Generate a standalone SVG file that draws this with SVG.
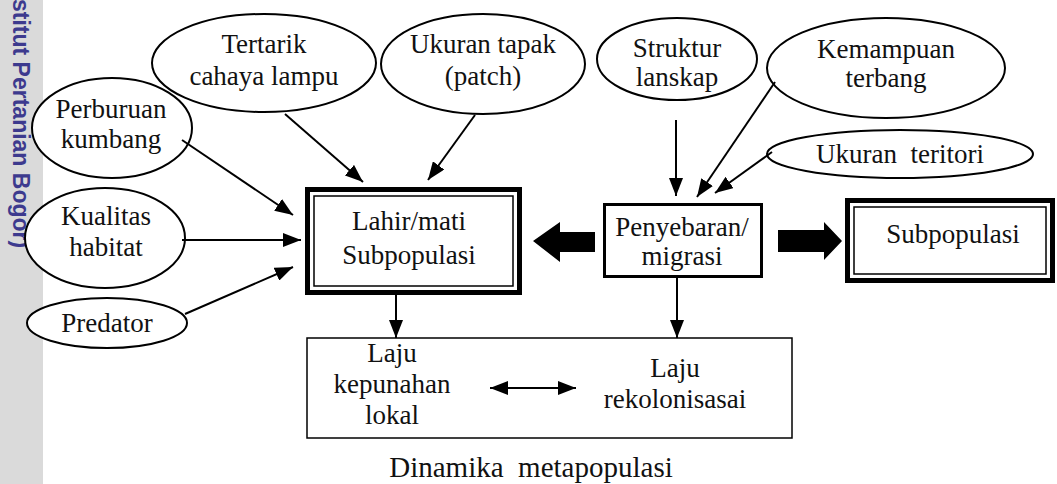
<svg xmlns="http://www.w3.org/2000/svg" width="1057" height="484" viewBox="0 0 1057 484">
<style>
.t{font-family:'Liberation Serif','Times New Roman',serif;font-size:27px;fill:#111;text-anchor:middle;white-space:pre}
.el{fill:#fff;stroke:#000;stroke-width:2}
.ln{stroke:#000;stroke-width:2;fill:none}
.blk{fill:#000}
</style>
<defs>
<marker id="ah" viewBox="0 0 10 10" refX="10" refY="5" markerUnits="userSpaceOnUse" markerWidth="18" markerHeight="14" orient="auto-start-reverse" preserveAspectRatio="none">
<path d="M0,0 L10,5 L0,10 z" fill="#000"/>
</marker>
</defs>
<rect x="0" y="0" width="43" height="484" fill="#dadada"/>
<text transform="translate(13,-1) rotate(90)" font-family="'Liberation Sans',Arial,sans-serif" font-weight="bold" font-size="23" fill="#3d3a8e">stitut Pertanian Bogor)</text>

<g id="tertarik"><ellipse class="el" cx="264" cy="63" rx="112" ry="49"/><text class="t" x="264" y="53">Tertarik</text><text class="t" x="264" y="85">cahaya lampu</text></g>
<g id="ukuran-tapak"><ellipse class="el" cx="483" cy="64" rx="102" ry="50"/><text class="t" x="483" y="53">Ukuran tapak</text><text class="t" x="483" y="85">(patch)</text></g>
<g id="struktur"><ellipse class="el" cx="677" cy="59" rx="80" ry="41"/><text class="t" x="677" y="57">Struktur</text><text class="t" x="677" y="86">lanskap</text></g>
<g id="kemampuan"><ellipse class="el" cx="886" cy="68" rx="119" ry="50"/><text class="t" x="886" y="58">Kemampuan</text><text class="t" x="886" y="87">terbang</text></g>
<g id="ukuran-teritori"><ellipse class="el" cx="900" cy="154" rx="133" ry="24"/><text class="t" x="900" y="163">Ukuran  teritori</text></g>
<g id="perburuan"><ellipse class="el" cx="112" cy="128" rx="80" ry="50"/><text class="t" x="111" y="118">Perburuan</text><text class="t" x="111" y="148">kumbang</text></g>
<g id="kualitas"><ellipse class="el" cx="105" cy="238" rx="80" ry="50"/><text class="t" x="106" y="225">Kualitas</text><text class="t" x="106" y="256">habitat</text></g>
<g id="predator"><ellipse class="el" cx="107" cy="323" rx="80" ry="25"/><text class="t" x="107" y="332">Predator</text></g>

<g id="lahir-mati">
<rect x="307.5" y="189.5" width="212" height="103" fill="#fff" stroke="#000" stroke-width="5"/>
<rect x="314" y="196" width="199" height="90" fill="none" stroke="#000" stroke-width="1.5"/>
<text class="t" x="409" y="230">Lahir/mati</text><text class="t" x="409" y="264">Subpopulasi</text>
</g>
<g id="penyebaran">
<rect x="604.5" y="204.5" width="157" height="72" fill="#fff" stroke="#000" stroke-width="3"/>
<text class="t" x="682" y="236">Penyebaran/</text><text class="t" x="682" y="265">migrasi</text>
</g>
<g id="subpopulasi">
<rect x="847.5" y="200.5" width="205" height="80" fill="#fff" stroke="#000" stroke-width="5"/>
<rect x="854" y="207" width="192" height="67" fill="none" stroke="#000" stroke-width="1.5"/>
<text class="t" x="953" y="243">Subpopulasi</text>
</g>
<g id="laju-box">
<rect x="307" y="338" width="485" height="100" fill="#fff" stroke="#000" stroke-width="1.5"/>
<text class="t" x="392" y="362">Laju</text><text class="t" x="392" y="393">kepunahan</text><text class="t" x="392" y="424">lokal</text>
<text class="t" x="675" y="377">Laju</text><text class="t" x="675" y="408">rekolonisasai</text>
</g>
<g id="caption"><text class="t" x="531" y="477" style="font-size:29px">Dinamika  metapopulasi</text></g>

<g id="connectors">
<line class="ln" x1="182" y1="140" x2="293" y2="215" marker-end="url(#ah)"/>
<line class="ln" x1="182" y1="240" x2="301" y2="240" marker-end="url(#ah)"/>
<line class="ln" x1="185" y1="314" x2="293" y2="267" marker-end="url(#ah)"/>
<line class="ln" x1="285" y1="114" x2="363" y2="182" marker-end="url(#ah)"/>
<line class="ln" x1="475" y1="115" x2="428" y2="180" marker-end="url(#ah)"/>
<line class="ln" x1="676" y1="120" x2="676" y2="196" marker-end="url(#ah)"/>
<line class="ln" x1="775" y1="82" x2="697" y2="197" marker-end="url(#ah)"/>
<line class="ln" x1="772" y1="152" x2="715" y2="193" marker-end="url(#ah)"/>
<line class="ln" x1="396" y1="295" x2="396" y2="338" marker-end="url(#ah)"/>
<line class="ln" x1="677" y1="278" x2="677" y2="338" marker-end="url(#ah)"/>
<line class="ln" x1="490" y1="388" x2="576" y2="388" marker-start="url(#ah)" marker-end="url(#ah)"/>
<polygon class="blk" points="533,241 560,222 560,232 595,232 595,252 560,252 560,262"/>
<polygon class="blk" points="778,230 824,230 824,222 842,241 824,260 824,252 778,252"/>
</g>
</svg>
